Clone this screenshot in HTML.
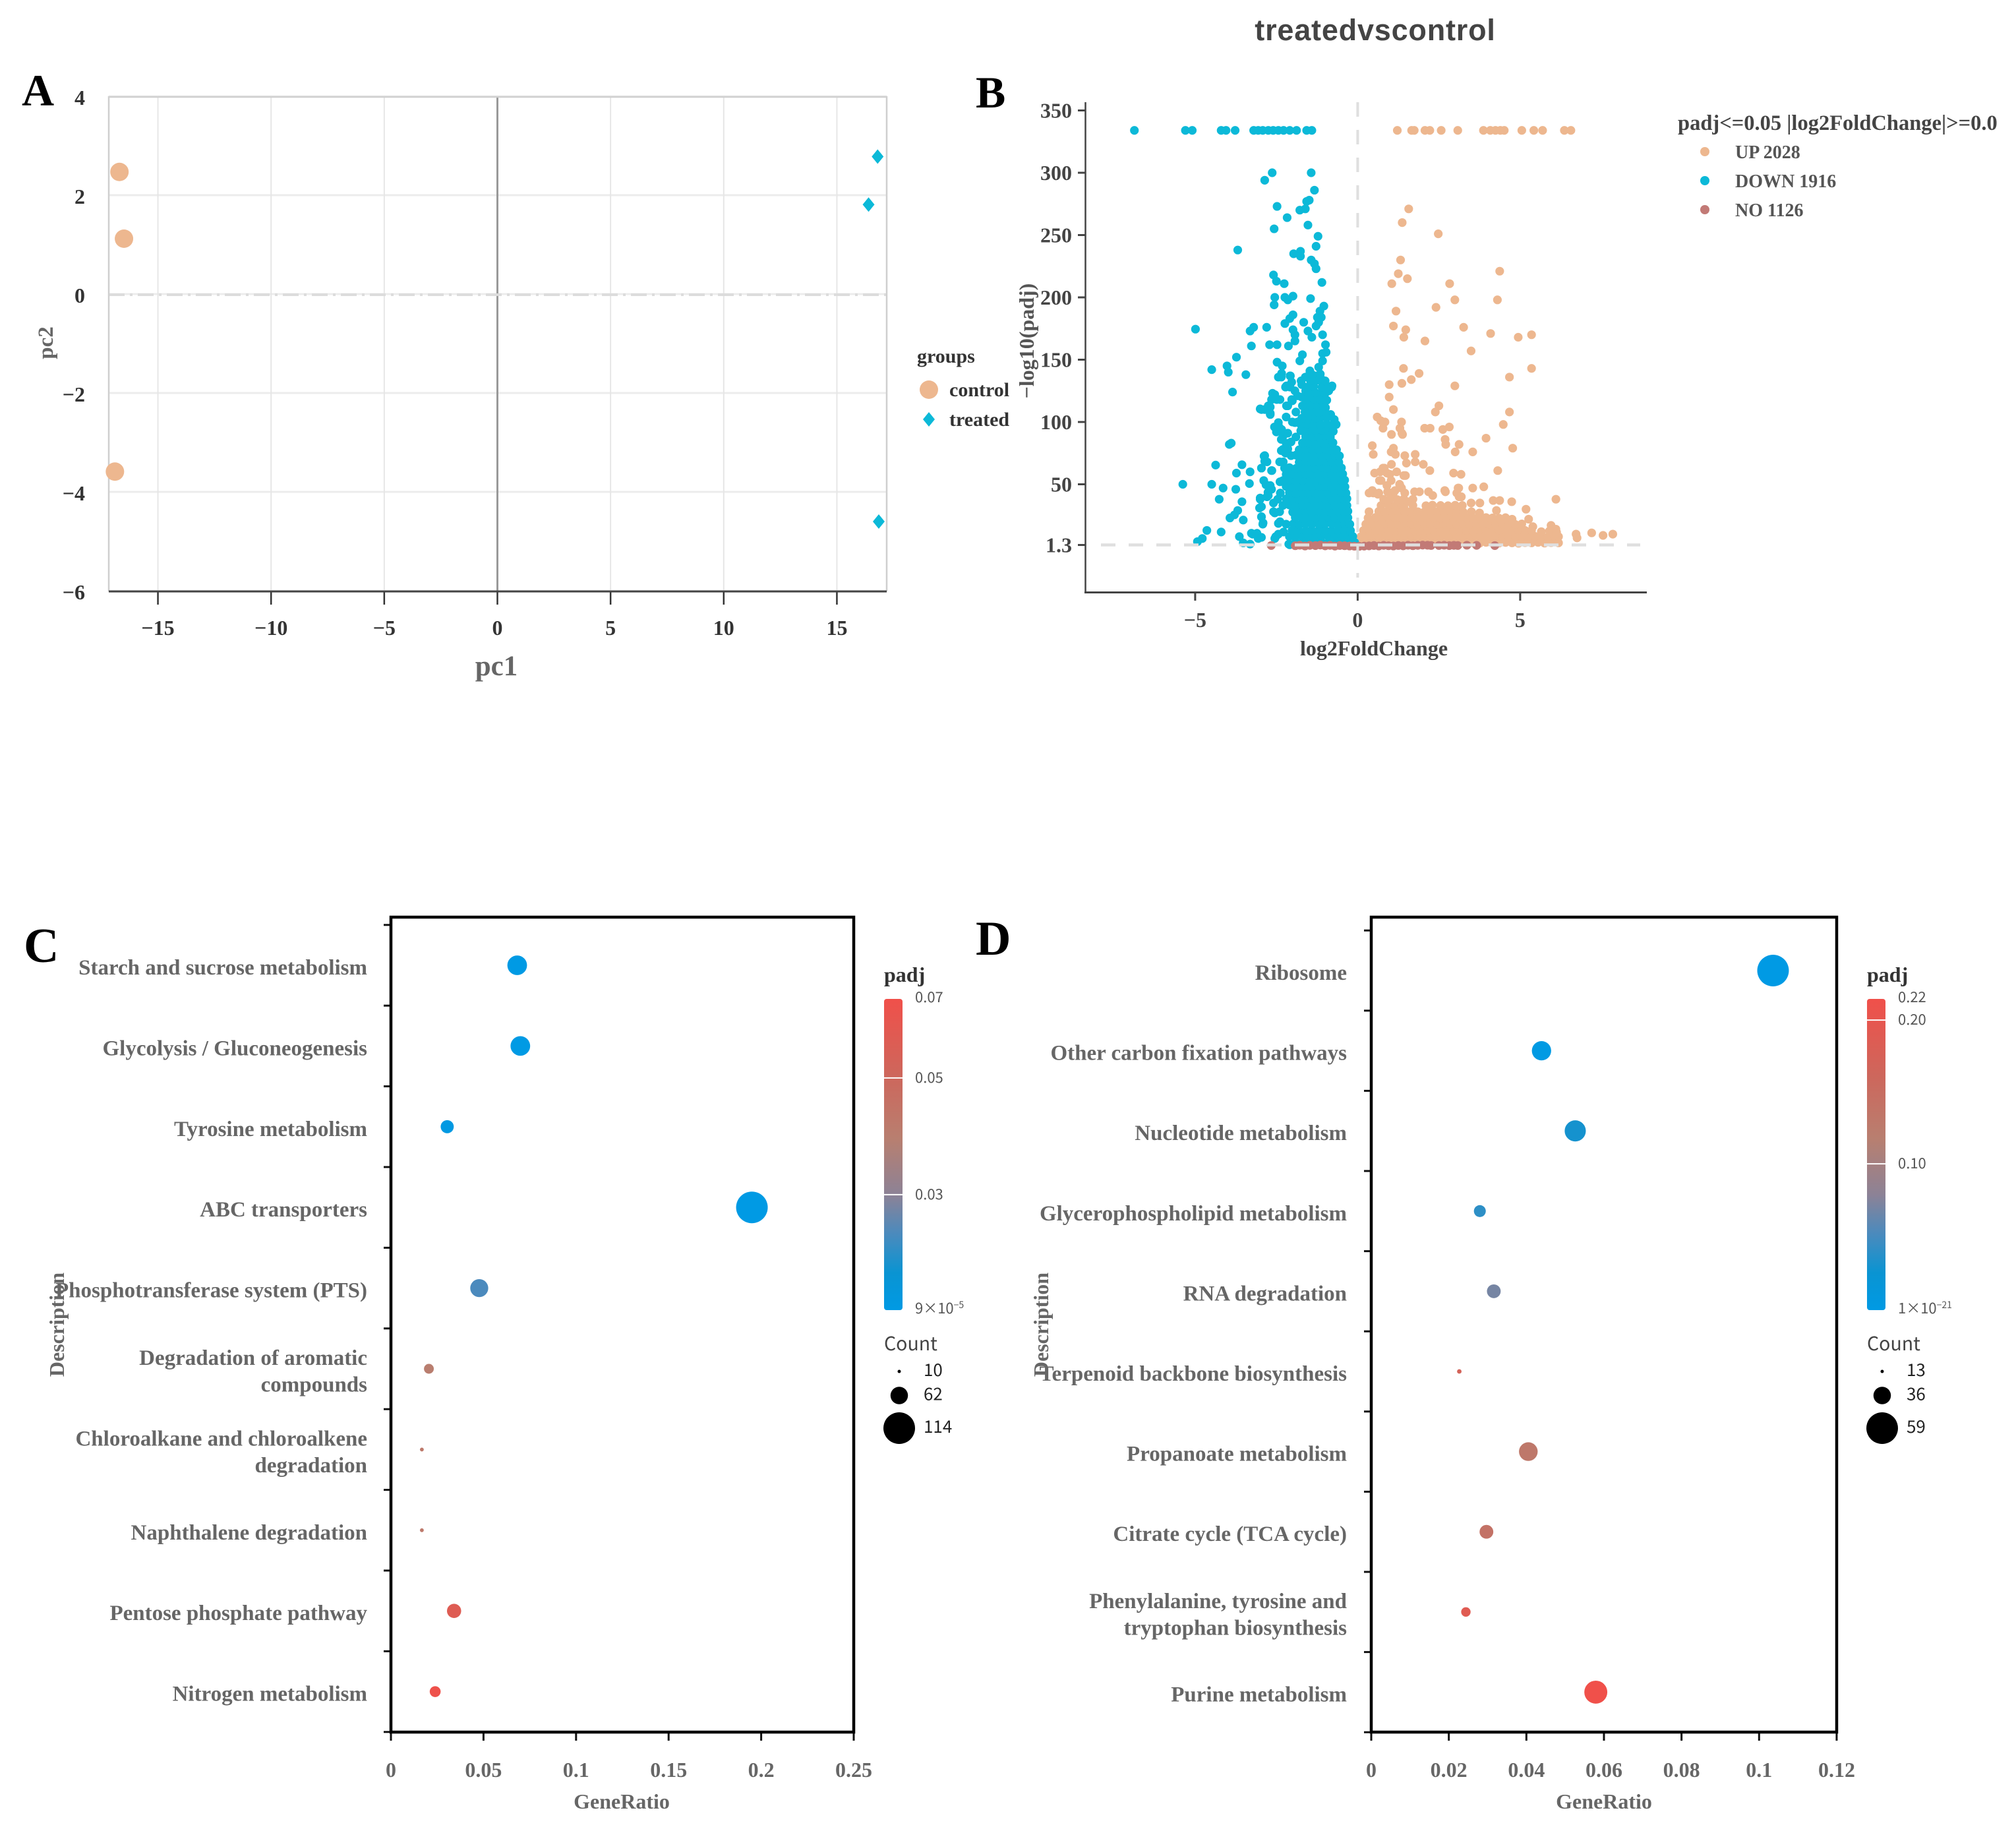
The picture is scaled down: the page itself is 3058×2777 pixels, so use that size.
<!DOCTYPE html>
<html lang="en">
<head>
<meta charset="utf-8">
<title>treatedvscontrol figure</title>
<style>
html,body{margin:0;padding:0;background:#fff;}
svg{display:block;}
text{font-family:"Liberation Serif","Noto Serif CJK SC",serif;font-weight:700;}
.sans,.sans tspan{font-family:"Noto Sans CJK SC","Liberation Sans",sans-serif;font-weight:400;}
.title{font-family:"Liberation Sans","Noto Sans CJK SC",sans-serif;font-weight:700;}
</style>
</head>
<body>
<svg id="figure" xmlns="http://www.w3.org/2000/svg" width="3058" height="2777" viewBox="0 0 3058 2777">
  <defs>
    <linearGradient id="padj-gradient" x1="0" y1="1" x2="0" y2="0">
      <stop offset="0" stop-color="#009ae4"/>
      <stop offset="0.12" stop-color="#0a94d2"/>
      <stop offset="0.25" stop-color="#4d8abc"/>
      <stop offset="0.37" stop-color="#8c8296"/>
      <stop offset="0.55" stop-color="#b87f70"/>
      <stop offset="0.75" stop-color="#cd675c"/>
      <stop offset="1" stop-color="#f0504a"/>
    </linearGradient>
  </defs>
  <rect width="3058" height="2777" fill="#fff"/>

  <text x="33" y="160" font-size="68" fill="#000">A</text>
  <text x="1480" y="163" font-size="68" fill="#000">B</text>
  <text x="36" y="1459" font-size="74" fill="#000">C</text>
  <text x="1480" y="1448" font-size="74" fill="#000">D</text>

  <g id="panel-a">
    <text x="753" y="1024" font-size="43" fill="#666" text-anchor="middle">pc1</text>
    <text transform="translate(80,520) rotate(-90)" font-size="33" fill="#666" text-anchor="middle">pc2</text>
    <text x="1391" y="550" font-size="30" fill="#333">groups</text>
    <text x="1440" y="601" font-size="30" fill="#333">control</text>
    <text x="1440" y="646" font-size="30" fill="#333">treated</text>
  </g>

  <g id="panel-b">
    <text x="2086" y="61" font-size="45" fill="#444" text-anchor="middle" letter-spacing="0.8" class="title">treatedvscontrol</text>
    <text x="2084" y="994" font-size="32" fill="#444" text-anchor="middle">log2FoldChange</text>
    <text transform="translate(1568,517) rotate(-90)" font-size="32" fill="#555" text-anchor="middle">−log10(padj)</text>
    <text x="2545" y="197" font-size="32.5" fill="#444">padj&lt;=0.05 |log2FoldChange|&gt;=0.0</text>
    <text x="2632" y="240" font-size="28" fill="#555">UP 2028</text>
    <text x="2632" y="284" font-size="28" fill="#555">DOWN 1916</text>
    <text x="2632" y="328" font-size="28" fill="#555">NO 1126</text>
  </g>

  <g id="panel-c">
    <text x="943" y="2743" font-size="32" fill="#666" text-anchor="middle">GeneRatio</text>
    <text transform="translate(97,2009) rotate(-90)" font-size="32" fill="#666" text-anchor="middle">Description</text>
    <text x="1341" y="1489" font-size="32" fill="#333">padj</text>
    <text x="1341" y="2048" font-size="28.5" fill="#444" class="sans">Count</text>
  </g>

  <g id="panel-d">
    <text x="2433" y="2743" font-size="32" fill="#666" text-anchor="middle">GeneRatio</text>
    <text transform="translate(1590,2009) rotate(-90)" font-size="32" fill="#666" text-anchor="middle">Description</text>
    <text x="2832" y="1489" font-size="32" fill="#333">padj</text>
    <text x="2832" y="2048" font-size="28.5" fill="#444" class="sans">Count</text>
  </g>
</svg>

<script>
/* ---------- Panel A data ---------- */
const pcaXTicks = [-15, -10, -5, 0, 5, 10, 15];
const pcaYTicks = [-6, -4, -2, 0, 2, 4];
const controlPc1 = [-16.7, -16.5, -16.9];
const controlPc2 = [2.47, 1.12, -3.59];
const treatedPc1 = [16.8, 16.4, 16.85];
const treatedPc2 = [2.78, 1.81, -4.6];

/* ---------- Panel B data: [log2FoldChange, -log10(padj)] ---------- */
const volcanoXTicks = [-5, 0, 5];
const volcanoYTicks = [1.3, 50, 100, 150, 200, 250, 300, 350];
const downPoints = [
[-6.87,334],[-5.3,334],[-5.09,334],[-4.2,334],[-4.05,334],[-3.77,334],[-3.2,334],[-3.06,334],[-2.92,334],[-2.75,334],[-2.6,334],[-2.44,334],[-2.28,334],[-2.09,334],[-1.88,334],[-1.57,334],[-1.41,334],
[-1.43,300],[-2.63,300],[-2.86,294],[-1.33,286],[-1.49,278],[-1.57,277],[-2.48,273],[-1.61,271],[-1.78,270],[-2.17,264],[-1.53,258],[-2.57,255],[-1.22,249],[-1.28,241],[-3.69,238],[-1.97,235],[-1.76,237],[-1.76,233],[-1.43,230],[-1.33,227],[-1.28,223],[-2.59,218],[-2.5,213],[-2.26,211],[-1.1,212],[-2.55,200],[-2.24,200],[-1.99,201],[-2.15,198],[-1.45,199],[-2.57,194],[-1.04,193],[-1.16,189],[-1.24,184],[-1.99,186],[-2.09,183],[-2.24,179],[-1.66,180],[-1.12,184],[-1.2,180],[-1.28,177],[-4.99,174.5],[-3.2,176],[-3.31,173],[-2.8,176],[-1.99,174],[-1.93,170],[-1.53,173],[-1.08,170],[-3.27,161],[-2.71,162],[-2.48,162],[-2.13,161],[-1.93,165],[-1.41,168],[-0.99,162],[-0.97,156],[-1.08,155],[-3.73,152],[-1.7,154],[-1.78,149],[-2.48,148],[-2.32,145],[-1.08,149],[-1.2,144],[-4.02,145],[-4.49,142],[-3.98,140],[-3.44,138],[-3.85,124],
[-1.47,141],[-1.26,137],[-1.61,136],[-1.1,134],[-2.34,139],[-2.44,136],[-2.07,137],[-2.03,132],[-2.19,129],[-1.93,125],[-1.72,130],[-1.41,130],[-0.79,129],[-0.89,125],[-1.2,122],[-1.08,117],[-1.41,118],[-1.72,120],[-1.51,113],[-2.03,118],[-2.19,113],[-2.55,122],[-2.65,118],[-2.75,113],[-3.0,110.5],[-2.86,110],[-2.69,106],[-0.99,111.5],[-0.83,106],[-0.72,102],[-2.44,99.5],[-2.34,94],[-1.93,99.5],[-1.72,103],[-1.41,106],[-1.2,99.5],[-0.89,94],[-3.89,83],[-3.95,82],
[-4.37,65.4],[-3.56,65.7],[-2.88,72.6],[-2.86,68.5],[-2.96,63],[-2.65,61],[-3.73,59],[-3.31,60],[-5.38,50],[-4.49,50],[-4.14,47],[-3.75,46],[-3.33,50.6],[-2.82,49.6],[-4.26,38],[-3.56,36],[-3.0,39],[-3.02,31],[-2.65,46],[-2.75,41],[-3.69,29],[-3.79,25.5],[-3.93,23],[-3.52,21.3],[-2.96,23.8],[-2.92,18],[-2.55,27],[-2.44,18.6],[-4.64,13],[-4.2,11.7],[-4.78,6.5],[-4.93,4],[-3.64,8],[-3.27,10.7],[-3.1,10.7],[-3.06,6.5],[-3.52,3],[-3.31,2],[-2.55,6.5],[-2.44,10],[-2.09,1.5],[-2.28,11.7],
[-1.92,3],[-1.74,2.6],[-1.58,3.4],[-1.41,2.8],[-1.23,3.2],[-1.06,2.5],[-0.88,3.5],[-0.71,3],[-0.54,2.7],[-0.37,3.3],[-0.22,2.9],[-0.09,3.4],
[-2.1,8],[-1.91,7.6],[-1.7,8.4],[-1.51,8],[-1.3,7.7],[-1.11,8.3],[-0.9,8],[-0.7,7.5],[-0.5,8.2],[-0.31,7.8],[-0.15,8.2],
[-2.02,13],[-1.82,13.4],[-1.6,12.7],[-1.42,13.2],[-1.2,13],[-1.01,13.5],[-0.8,12.8],[-0.6,13.1],[-0.41,13.3],[-0.22,12.9],
[-2.2,18],[-1.98,18.3],[-1.79,17.7],[-1.61,18.2],[-1.4,18],[-1.19,17.8],[-1,18.4],[-0.79,18],[-0.6,17.7],[-0.4,18.3],[-0.24,18],
[-1.92,23.4],[-1.7,22.7],[-1.5,23.2],[-1.3,23],[-1.09,22.8],[-0.9,23.3],[-0.7,23],[-0.5,22.8],[-0.3,23.2],
[-2.4,28],[-2,27.7],[-1.8,28.2],[-1.6,28],[-1.41,27.8],[-1.2,28.4],[-1,28],[-0.8,27.7],[-0.6,28.3],[-0.42,28],[-0.3,28.4],
[-2.3,33],[-2.1,33.4],[-1.9,32.7],[-1.7,33.2],[-1.5,33],[-1.3,32.8],[-1.1,33.3],[-0.9,33],[-0.7,32.8],[-0.5,33.2],[-0.33,33],
[-2.46,38],[-2.2,38.3],[-2,37.7],[-1.8,38.2],[-1.6,38],[-1.4,37.8],[-1.2,38.4],[-1,38],[-0.8,37.7],[-0.6,38.3],[-0.42,38],[-0.33,38.4],
[-2.38,43],[-2.1,43.4],[-1.9,42.7],[-1.7,43.2],[-1.5,43],[-1.3,42.8],[-1.1,43.3],[-0.9,43],[-0.7,42.8],[-0.5,43.2],[-0.36,43],
[-2.2,48.3],[-2,47.7],[-1.8,48.2],[-1.6,48],[-1.4,47.8],[-1.2,48.4],[-1,48],[-0.8,47.7],[-0.6,48.3],[-0.39,48],
[-2.3,53],[-2.1,53.4],[-1.9,52.7],[-1.7,53.2],[-1.5,53],[-1.3,52.8],[-1.1,53.3],[-0.9,53],[-0.7,52.8],[-0.5,53.2],[-0.4,53.4],
[-2.2,58],[-2,58.3],[-1.8,57.7],[-1.6,58.2],[-1.4,58],[-1.2,57.8],[-1,58.4],[-0.8,58],[-0.6,57.7],[-0.46,58.3],
[-2.25,63],[-2.1,63.4],[-1.9,62.7],[-1.7,63.2],[-1.5,63],[-1.3,62.8],[-1.1,63.3],[-0.9,63],[-0.7,62.8],[-0.5,63.2],
[-2.4,68],[-1.8,67.7],[-1.6,68.2],[-1.4,68],[-1.2,67.8],[-1,68.4],[-0.8,68],[-0.58,67.7],
[-2.05,73],[-1.9,73.4],[-1.7,72.7],[-1.5,73.2],[-1.3,73],[-1.1,72.8],[-0.9,73.3],[-0.7,73],[-0.56,72.8],
[-2.3,78],[-2.15,78.4],[-1.8,77.7],[-1.6,78.2],[-1.4,78],[-1.2,77.8],[-1,78.4],[-0.8,78],[-0.65,77.7],
[-2.2,83],[-2.05,84],[-1.7,83.2],[-1.5,83],[-1.3,82.8],[-1.1,83.3],[-0.9,83],[-0.76,83.4],
[-1.9,88],[-1.6,88.2],[-1.4,88],[-1.2,87.8],[-1,88.4],[-0.84,88],
[-2.5,92],[-2.42,96],[-1.75,93],[-1.5,93.2],[-1.3,93],[-1.05,92.8],[-0.66,98],
[-1.6,98],[-1.35,101],[-1.1,104],[-2.2,104],[-1.9,108],[-1.5,109],[-1.3,112],[-1.15,115],[-1.6,125],[-1.45,124],
[-1.7,93],[-1.1,93.5],[-0.9,93],[-0.75,92.5],[-1.75,98],[-1.55,98.5],[-1.35,97.5],[-1.15,98],[-0.95,98.5],[-0.78,97.5],[-1.7,103],[-1.5,103.5],[-1.3,103],[-0.95,103.5],[-1.62,108],[-1.4,108.5],[-1.2,107.5],[-1,108],[-1.7,113],[-1.45,113.5],[-1.25,113],[-1.05,112.5],[-1.6,118],[-1.35,118.5],[-1.15,118],[-0.95,117.5],[-1.5,123],[-1.3,123.5],[-1,123],[-1.55,128],[-1.35,128.5],[-1.1,128],[-0.9,127.5],[-1.45,133],[-1.25,133.5],[-1,133],[-1.4,138],[-1.15,138.5],
[-2.42,95],[-2.56,96],[-2.29,89],[-2.35,86],[-2.15,91],[-2.01,100],[-1.85,100],[-2.62,123],[-2.49,118],[-2.39,118],[-2.69,112],[-2.96,110],[-2.69,107],[-2.15,113],[-2.01,117],[-1.85,121],[-2.08,128],[-2.22,128],[-2.35,136],[-2.08,137],[-1.74,133],[-1.47,139],[-0.8,128],
[-2.35,77],[-2.22,75],[-2.29,68],[-2.39,52],[-2.69,49],[-2.76,43.5],[-3.0,38],[-2.79,40],[-2.59,35],[-2.96,32],[-2.59,28],[-2.96,24],[-2.91,19],[-2.39,20],[-2.52,8],[-2.12,2],[-3.23,10],[-2.96,7.4],[-2.86,73],[-2.79,68],[-2.96,63],[-2.64,61],[-2.89,53]
];
const upPoints = [
[1.22,334],[1.66,334],[1.74,334],[2.07,334],[2.22,334],[2.57,334],[3.08,334],[3.87,334],[4.08,334],[4.24,334],[4.39,334],[4.51,334],[5.05,334],[5.42,334],[5.69,334],[6.36,334],[6.56,334],
[1.57,271],[1.37,260],[2.48,251],[1.32,230],[4.37,221],[1.25,219],[1.53,215],[1.05,211],[2.83,211],[2.99,198],[4.3,198],[2.41,192],[1.18,189],[1.1,177],[3.26,176],[1.48,174],[4.09,171],[1.42,168],[4.94,168],[5.35,170],[2.07,165],[3.49,157],[5.35,143],[1.41,143],[1.89,139],[1.65,134],[1.36,131],[0.97,130],[4.67,136],[2.99,129],[0.97,120],[2.5,113],[2.39,108],[1.1,110],[4.67,108],[4.48,98],[3.95,87],[4.77,79],[4.31,61],
[0.6,104],[0.71,101],[0.84,100],[1.35,100],[0.78,95],[1.3,95],[1.36,91],[1.04,90],[1.38,90],[2.06,95],[2.23,95],[2.82,96],[2.62,94],[2.69,86],[2.71,82],[3.12,82],[3.0,76],[3.54,76],[0.45,81],[0.48,74],[1.1,79],[1.03,76],[1.16,74],[1.45,73],[1.77,74],[1.5,67],[1.77,68],[2.02,66],[2.22,61],[2.95,59],[3.18,58],[1.04,66],[0.78,63],[0.52,59],[1.2,60],[0.9,59],[1.42,57],[1.29,50],[0.67,53],[1.03,53],[0.9,49],[0.48,43],[0.65,43],[1.04,43],[1.45,43],[1.75,44],[2.18,44],[2.7,44],[3.11,47],[3.54,47],[3.88,48],[3.12,40],[4.74,36],[6.1,38],[5.18,30],[3.76,35],[3.49,35],[4.17,37],[4.37,37],[4.27,29],[5.26,22],[5.39,16],[5.95,17],[6.1,14],[6.72,10],[7.2,11],[7.55,9],[7.85,10],[6.75,7],
[3.05,43],[3.19,40],[3.09,47],[2.68,45],[2.31,41],[1.9,44],[1.3,49],[1.47,57],[0.82,63],[0.69,60],[0.99,58],[0.72,53],[0.45,45],[0.35,43],[0.62,42],[1.1,43],[0.35,28],[1.43,31],[1.7,38],[1.55,36],
[0.15,3],[0.35,2.6],[0.55,3.4],[0.75,2.8],[0.95,3.2],[1.15,2.5],[1.35,3.5],[1.55,3],[1.75,2.7],[1.95,3.3],[2.15,2.9],[2.35,3.4],[2.55,3],[2.75,2.6],[2.95,3.3],[3.15,2.8],[3.35,3.2],[3.55,3],[3.75,2.7],[3.95,3.4],[4.15,3],[4.35,2.8],[4.55,3.3],[4.75,3],[4.95,2.7],[5.15,3.2],[5.35,3],[5.55,3.4],[5.75,2.8],[5.95,3.2],[6.18,3],
[0.1,8],[0.25,7.6],[0.45,8.4],[0.65,8],[0.85,7.7],[1.05,8.3],[1.25,8],[1.45,7.5],[1.65,8.2],[1.85,7.8],[2.05,8.3],[2.25,8],[2.45,7.7],[2.65,8.4],[2.85,8],[3.05,7.6],[3.25,8.2],[3.45,7.9],[3.65,8.3],[3.85,8],[4.05,7.7],[4.25,8.3],[4.45,8],[4.65,7.6],[4.85,8.2],[5.05,8],[5.25,7.7],[5.45,8.3],[5.65,8],[5.85,7.7],[6.05,8.3],[6.18,8],
[0.18,13],[0.35,13.4],[0.55,12.7],[0.75,13.2],[0.95,13],[1.15,12.8],[1.35,13.3],[1.55,13],[1.75,12.8],[1.95,13.2],[2.15,13],[2.35,12.7],[2.55,13.4],[2.75,13],[2.95,12.8],[3.15,13.2],[3.35,13],[3.55,12.7],[3.75,13.3],[3.95,13],[4.15,12.8],[4.35,13.2],[4.55,13],[4.75,12.7],[4.95,13.3],[5.15,13],[5.35,12.8],[5.65,12],[5.9,12.5],[6.12,11.5],
[0.25,18],[0.45,18.3],[0.65,17.7],[0.85,18.2],[1.05,18],[1.25,17.8],[1.45,18.4],[1.65,18],[1.85,17.7],[2.05,18.3],[2.25,18],[2.45,17.8],[2.65,18.2],[2.85,18],[3.05,17.7],[3.25,18.3],[3.45,18],[3.65,17.8],[3.85,18.2],[4.05,18],[4.25,17.7],[4.45,18.3],[4.65,18],[4.85,17.8],[5.05,18.2],
[0.32,23],[0.55,23.4],[0.75,22.7],[0.95,23.2],[1.15,23],[1.35,22.8],[1.55,23.3],[1.75,23],[1.95,22.8],[2.15,23.2],[2.35,23],[2.55,22.7],[2.75,23.4],[2.95,23],[3.15,22.8],[3.35,23.2],[3.55,23],[3.75,22.7],[3.95,23.3],[4.15,23],[4.35,22.8],[4.55,23.2],[4.75,22],
[0.65,28.3],[0.85,27.7],[1.05,28.2],[1.25,28],[1.45,27.8],[1.65,28.4],[1.85,28],[2.05,27.7],[2.25,28.3],[2.45,28],[2.65,27.8],[2.85,28.2],[3.05,28],[3.25,27.7],[3.5,28],[3.75,27],
[0.72,33],[0.95,33.4],[1.15,32.7],[1.35,33.2],[1.7,33],[2.1,32.8],[2.3,33.3],[2.55,33],[2.78,32.8],[3.0,33.2],[3.22,33],
[0.8,38],[1.0,38.3],[1.22,37.7],[1.42,38.2],[0.92,44],[1.15,45],[1.35,47]
];
const noPoints = [
[-2.66,0.9],[-1.92,0.7],[-1.78,1.1],[-1.62,0.5],[-1.47,1],[-1.3,0.8],[-1.15,1.2],[-1,0.6],[-0.85,1],[-0.7,0.4],[-0.55,0.9],[-0.4,0.7],[-0.25,0.5],[-0.1,0.3],[0.05,0.2],[0.2,0.4],[0.35,0.6],[0.5,0.9],[0.65,0.5],[0.8,1],[0.95,0.7],[1.1,0.5],[1.25,0.9],[1.4,0.6],[1.55,1.1],[1.7,0.7],[1.85,1],[2.0,1.2],[2.15,1.1],[2.26,0.9],[2.5,0.9],[2.66,1.1],[2.82,0.8],[2.96,1],[3.08,0.9],[3.36,1.1],[3.66,1],[4.22,0.8]
];

/* ---------- Panel C data ---------- */
const cCategories = ["Starch and sucrose metabolism","Glycolysis / Gluconeogenesis","Tyrosine metabolism","ABC transporters","Phosphotransferase system (PTS)","Degradation of aromatic|compounds","Chloroalkane and chloroalkene|degradation","Naphthalene degradation","Pentose phosphate pathway","Nitrogen metabolism"];
const cGeneRatio = [0.0682, 0.0699, 0.0304, 0.195, 0.0477, 0.0205, 0.0167, 0.0167, 0.0341, 0.0239];
const cCount = [70, 70, 46, 114, 64, 34, 12, 12, 50, 38];
const cPadj = [0.0002, 0.0003, 0.001, 0.0001, 0.02, 0.04, 0.042, 0.042, 0.06, 0.069];
const cXTicks = [0, 0.05, 0.1, 0.15, 0.2, 0.25];
const cPadjTicks = [0.00009, 0.03, 0.05, 0.07];
const cPadjTickLabels = ["9×10|−5", "0.03", "0.05", "0.07"];
const cCountLegend = [10, 62, 114];

/* ---------- Panel D data ---------- */
const dCategories = ["Ribosome","Other carbon fixation pathways","Nucleotide metabolism","Glycerophospholipid metabolism","RNA degradation","Terpenoid backbone biosynthesis","Propanoate metabolism","Citrate cycle (TCA cycle)","Phenylalanine, tyrosine and|tryptophan biosynthesis","Purine metabolism"];
const dGeneRatio = [0.1036, 0.0439, 0.0526, 0.028, 0.0316, 0.0227, 0.0405, 0.0297, 0.0244, 0.0579];
const dCount = [59, 39, 42, 27, 30, 15, 38, 30, 23, 45];
const dPadj = [0.0001, 0.002, 0.03, 0.04, 0.07, 0.17, 0.13, 0.14, 0.19, 0.22];
const dXTicks = [0, 0.02, 0.04, 0.06, 0.08, 0.1, 0.12];
const dPadjTicks = [1e-21, 0.1, 0.2, 0.22];
const dPadjTickLabels = ["1×10|−21", "0.10", "0.20", "0.22"];
const dCountLegend = [13, 36, 59];

/* ---------- Helpers ---------- */
const SVGNS = 'http://www.w3.org/2000/svg';
function draw(parent, tag, attrs, content) {
  const el = document.createElementNS(SVGNS, tag);
  for (const k in attrs) el.setAttribute(k, attrs[k]);
  if (content !== undefined) el.textContent = content;
  parent.appendChild(el);
  return el;
}
function fmt(v) { return String(v).replace('-', '\u2212'); }

const colorStops = [[0,[0,154,228]],[0.12,[10,148,210]],[0.25,[77,138,188]],[0.37,[140,130,150]],[0.55,[184,127,112]],[0.75,[205,103,92]],[1,[240,80,74]]];
function colorAt(t) {
  t = Math.max(0, Math.min(1, t));
  for (let i = 1; i < colorStops.length; i++) {
    if (t <= colorStops[i][0]) {
      const a = colorStops[i-1], b = colorStops[i], f = (t - a[0]) / (b[0] - a[0]);
      return 'rgb(' + a[1].map((c, j) => Math.round(c + (b[1][j] - c) * f)).join(',') + ')';
    }
  }
  return 'rgb(240,80,74)';
}
function piecewise(domain, range) {
  return function (v) {
    for (let i = 1; i < domain.length; i++) {
      if (v <= domain[i]) return range[i-1] + (range[i] - range[i-1]) * (v - domain[i-1]) / (domain[i] - domain[i-1]);
    }
    return range[range.length - 1];
  };
}

/* ---------- Panel A ---------- */
(function () {
  const g = document.getElementById('panel-a');
  const L = 165, R = 1345, T = 147, B = 897;
  const x = v => 754.5 + v * 34.33;
  const y = v => 446 - v * 75;
  pcaYTicks.forEach(t => {
    const l = draw(g, 'line', {x1: L, x2: R, y1: y(t), y2: y(t), stroke: '#ececec', 'stroke-width': 3});
    
    
    const lab = draw(g, 'text', {x: 129, y: y(t) + 13, 'font-size': 32, fill: '#333', 'text-anchor': 'end'}, fmt(t));
    
    
  });
  pcaXTicks.forEach(t => {
    const l = draw(g, 'line', {x1: x(t), x2: x(t), y1: T, y2: B, stroke: t === 0 ? '#999' : '#e6e6e6', 'stroke-width': t === 0 ? 3 : 2});
    
    
    const tk = draw(g, 'line', {x1: x(t), x2: x(t), y1: B, y2: B + 20, stroke: '#333', 'stroke-width': 2.5});
    
    
    const lab = draw(g, 'text', {x: x(t), y: 963, 'font-size': 32, fill: '#333', 'text-anchor': 'middle'}, fmt(t));
    
    
  });
  const zero = draw(g, 'line', {x1: L, x2: R, y1: y(0) + 1, y2: y(0) + 1, stroke: '#dcdcdc', 'stroke-width': 4, 'stroke-dasharray': '24 8 4 8'});
  
  
  const border = draw(g, 'path', {d: `M${L} ${B}V${T}H${R}V${B}`, fill: 'none', stroke: '#cfcfcf', 'stroke-width': 2.5});
  
  
  const xAxis = draw(g, 'line', {x1: L, x2: R, y1: B, y2: B, stroke: '#444', 'stroke-width': 3});
  
  
  controlPc1.forEach((v, i) => {
    const c = draw(g, 'circle', {cx: x(v), cy: y(controlPc2[i]), r: 14, fill: '#edb78f'});
    
    
  });
  const diamond = (cx, cy) => `${cx},${cy-11} ${cx+9},${cy} ${cx},${cy+11} ${cx-9},${cy}`;
  treatedPc1.forEach((v, i) => {
    const d = draw(g, 'polygon', {points: diamond(x(v), y(treatedPc2[i])), fill: '#0cb9d8'});
    
    
  });
  const lc = draw(g, 'circle', {cx: 1409, cy: 591, r: 14, fill: '#edb78f'});
  
  
  const ld = draw(g, 'polygon', {points: diamond(1409, 636), fill: '#0cb9d8'});
  
  
})();

/* ---------- Panel B ---------- */
(function () {
  const g = document.getElementById('panel-b');
  const x = v => 2059.4 + 49.3 * v;
  const y = v => 829 - 1.89 * v;
  const colUp = '#edb78f', colDown = '#0cb9d8', colNo = '#c27a76';
  upPoints.forEach(p => {
    const c = draw(g, 'circle', {cx: x(p[0]), cy: y(p[1]), r: 6.6, fill: colUp});
    
    
  });
  downPoints.forEach(p => {
    const c = draw(g, 'circle', {cx: x(p[0]), cy: y(p[1]), r: 6.6, fill: colDown});
    
    
  });
  noPoints.forEach(p => {
    const c = draw(g, 'circle', {cx: x(p[0]), cy: y(p[1]), r: 6.6, fill: colNo});
    
    
  });
  const h = draw(g, 'line', {x1: 1670, x2: 2488, y1: y(1.3), y2: y(1.3), stroke: '#dfdfdf', 'stroke-width': 4.5, 'stroke-dasharray': '22 20'});
  
  
  const vl = draw(g, 'line', {x1: x(0), x2: x(0), y1: 155, y2: 876, stroke: '#dfdfdf', 'stroke-width': 4, 'stroke-dasharray': '22 20'});
  
  
  const yAxis = draw(g, 'line', {x1: 1646.5, x2: 1646.5, y1: 155, y2: 899, stroke: '#444', 'stroke-width': 2.5});
  
  
  const xAxis = draw(g, 'line', {x1: 1645, x2: 2498, y1: 898.5, y2: 898.5, stroke: '#444', 'stroke-width': 3});
  
  
  volcanoXTicks.forEach(t => {
    const tk = draw(g, 'line', {x1: x(t), x2: x(t), y1: 899, y2: 911, stroke: '#444', 'stroke-width': 3});
    
    
    const lab = draw(g, 'text', {x: x(t), y: 951, 'font-size': 32, fill: '#444', 'text-anchor': 'middle'}, fmt(t));
    
    
  });
  volcanoYTicks.forEach(t => {
    const tk = draw(g, 'line', {x1: 1635, x2: 1646, y1: y(t), y2: y(t), stroke: '#444', 'stroke-width': 3});
    
    
    const lab = draw(g, 'text', {x: 1626, y: y(t) + 11, 'font-size': 32, fill: '#444', 'text-anchor': 'end'}, fmt(t));
    
    
  });
  const lu = draw(g, 'circle', {cx: 2586, cy: 230, r: 7, fill: colUp});
  
  
  const ld = draw(g, 'circle', {cx: 2586, cy: 274, r: 7, fill: colDown});
  
  
  const ln = draw(g, 'circle', {cx: 2586, cy: 318, r: 7, fill: colNo});
  
  
})();

/* ---------- Panels C and D ---------- */
function dotPlot(o) {
  const g = document.getElementById(o.id);
  const x = v => o.left + v * o.xScale;
  const y = i => o.y0 + o.step * i;
  const tOf = piecewise(o.padjTicks, o.padjPos);
  /* y ticks */
  for (let i = 0; i <= o.categories.length; i++) {
    const yy = y(i - 0.5);
    const tk = draw(g, 'line', {x1: o.left - 11, x2: o.left, y1: yy, y2: yy, stroke: '#111', 'stroke-width': 3});
    
    
  }
  /* x ticks */
  o.xTicks.forEach(t => {
    const tk = draw(g, 'line', {x1: x(t), x2: x(t), y1: 2627, y2: 2640, stroke: '#111', 'stroke-width': 3});
    
    
    const lab = draw(g, 'text', {x: x(t), y: 2695, 'font-size': 32, fill: '#666', 'text-anchor': 'middle'}, String(t));
    
    
  });
  /* category labels */
  o.categories.forEach((name, i) => {
    const lines = name.split('|');
    const base = lines.length === 1 ? y(i) + 14 : y(i) - 6;
    lines.forEach((ln, j) => {
      const lab = draw(g, 'text', {x: o.labelX, y: base + j * 40.5, 'font-size': 33, fill: '#666', 'text-anchor': 'end'}, ln);
      
      
    });
  });
  /* frame */
  const frame = draw(g, 'rect', {x: o.left, y: 1391, width: o.right - o.left, height: 1236, fill: 'none', stroke: '#000', 'stroke-width': 4.5});
  
  
  /* dots */
  o.ratio.forEach((v, i) => {
    const c = draw(g, 'circle', {cx: x(v), cy: y(i), r: o.size(o.count[i]), fill: colorAt(tOf(o.padj[i]))});
    
    
  });
  /* colour bar */
  const barT = 1515, barH = 472;
  const bar = draw(g, 'rect', {x: o.barX, y: barT, width: 28, height: barH, rx: 4, fill: 'url(#padj-gradient)'});
  
  
  o.padjTicks.forEach((t, i) => {
    const yy = barT + barH * (1 - tOf(t));
    const last = o.padjTicks.length - 1;
    if (i > 0 && i < last) {
      const tk = draw(g, 'line', {x1: o.barX, x2: o.barX + 28, y1: yy, y2: yy, stroke: '#fff', 'stroke-width': 2});
      
      
    }
    const parts = o.padjLabels[i].split('|');
    const ly = (i === 0 || i === last) ? yy + 5 : yy + 7;
    const lab = draw(g, 'text', {x: o.barX + 47, y: ly, 'font-size': 22, fill: '#555', class: 'sans'});
    
    
    draw(lab, 'tspan', {}, parts[0]);
    if (parts[1]) draw(lab, 'tspan', {dy: -8, 'font-size': 14}, parts[1]);
  });
  /* size legend */
  const rows = [2080, 2116.5, 2166];
  o.countLegend.forEach((c, i) => {
    const m = draw(g, 'circle', {cx: o.barX + 23, cy: rows[i], r: o.size(c), fill: '#000'});
    
    
    const lab = draw(g, 'text', {x: o.barX + 60, y: rows[i] + 7, 'font-size': 26, fill: '#222', class: 'sans'}, String(c));
    
    
  });
}

dotPlot({
  id: 'panel-c', left: 593, right: 1295, xScale: 2808, y0: 1464, step: 122.4, labelX: 557, barX: 1341,
  categories: cCategories, ratio: cGeneRatio, count: cCount, padj: cPadj, xTicks: cXTicks,
  padjTicks: cPadjTicks, padjPos: [0, 0.371, 0.746, 1], padjLabels: cPadjTickLabels, countLegend: cCountLegend,
  size: c => 2.5 + (c - 10) * 0.2067
});
dotPlot({
  id: 'panel-d', left: 2080, right: 2786, xScale: 5883, y0: 1472, step: 121.6, labelX: 2043, barX: 2832,
  categories: dCategories, ratio: dGeneRatio, count: dCount, padj: dPadj, xTicks: dXTicks,
  padjTicks: dPadjTicks, padjPos: [0, 0.47, 0.932, 1], padjLabels: dPadjTickLabels, countLegend: dCountLegend,
  size: c => 2.5 + (c - 13) * 0.467
});
</script>
</body>
</html>
